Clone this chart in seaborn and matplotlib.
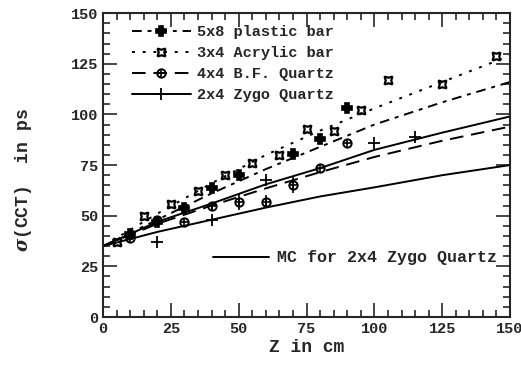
import matplotlib
matplotlib.use("Agg")
import matplotlib.pyplot as plt
import seaborn as sns
import pandas as pd

# Measured time resolution vs. position along the bar
plastic_z = [10, 20, 30, 40, 50, 70, 80, 90]
plastic_sigma = [41, 47, 54, 63.5, 70, 80.5, 88, 103]

acrylic_z = [5, 15, 25, 35, 45, 55, 65, 75, 85, 95, 105, 125, 145]
acrylic_sigma = [37, 50, 56, 62, 70, 76, 80, 93, 92, 102, 117, 115, 129]

bf_z = [10, 20, 30, 40, 50, 60, 70, 80, 90]
bf_sigma = [39, 48, 47, 55, 57, 57, 65, 73.5, 86]
bf_err = [0, 0, 0, 2, 4, 3, 4, 0, 0]

zygo_z = [20, 40, 60, 100, 115]
zygo_sigma = [37, 48, 67.5, 86, 89]

# Fitted curves sampled along Z
fit_z = [0, 20, 40, 60, 80, 100, 125, 150]
plastic_fit = [35, 48, 61, 73, 84, 95, 106, 116]
acrylic_fit = [35, 51, 66, 80, 92, 103, 116, 129]
bf_fit = [35, 46, 55, 63.5, 71.5, 79, 87, 94]
zygo_fit = [35, 47, 56, 65.5, 73.5, 82.5, 91, 99]
mc_fit = [35, 42, 48, 54, 59.5, 64, 70, 75]

labels = ["5x8 plastic bar", "3x4 Acrylic bar", "4x4 B.F. Quartz", "2x4 Zygo Quartz"]
mc_label = "MC for 2x4 Zygo Quartz"
x_ticks = [0, 25, 50, 75, 100, 125, 150]
y_ticks = [0, 25, 50, 75, 100, 125, 150]

sns.set_style("ticks")
plt.rcParams["font.family"] = ["Liberation Mono", "DejaVu Sans Mono"]
plt.rcParams["font.weight"] = "bold"
plt.rcParams["mathtext.fontset"] = "dejavuserif"

fig = plt.figure(figsize=(5.21, 3.65), dpi=100)
ax = fig.add_axes([0.1977, 0.1315, 0.7813, 0.8325])

black = "black"
LW = 1.4
styles = {
    "plastic": dict(ls=(0, (5, 3, 2, 3)), marker="P", ms=6.5, mfc=black, mew=1.2),
    "acrylic": dict(ls=(0, (1.5, 4)), marker=(4, 1, 45), ms=8, mfc="none", mew=1.6),
    "bf": dict(ls=(0, (7, 4)), marker="o", ms=6, mfc="none", mew=1.4),
    "zygo": dict(ls="-", marker="+", ms=9, mfc=black, mew=1.3),
}

fits = {"plastic": plastic_fit, "acrylic": acrylic_fit, "bf": bf_fit, "zygo": zygo_fit}
points = {
    "plastic": (plastic_z, plastic_sigma),
    "acrylic": (acrylic_z, acrylic_sigma),
    "bf": (bf_z, bf_sigma),
    "zygo": (zygo_z, zygo_sigma),
}

handles = []
for key in ["plastic", "acrylic", "bf", "zygo"]:
    st = styles[key]
    df_fit = pd.DataFrame({"z": fit_z, "s": fits[key]})
    sns.lineplot(data=df_fit, x="z", y="s", ax=ax, color=black, lw=LW,
                 linestyle=st["ls"], legend=False)
    zz, ss = points[key]
    ax.plot(zz, ss, ls="none", marker=st["marker"], ms=st["ms"], color=black,
            mfc=st["mfc"], mec=black, mew=st["mew"])
    h, = ax.plot([], [], color=black, lw=LW, linestyle=st["ls"],
                 marker=st["marker"], ms=st["ms"], mfc=st["mfc"], mec=black,
                 mew=st["mew"])
    if key == "bf":
        # circled-plus symbol: open circle with a cross inside
        ax.plot(bf_z, bf_sigma, ls="none", marker="+", ms=6, color=black, mew=1.2)
        hp, = ax.plot([], [], ls="none", marker="+", ms=6, color=black, mew=1.2)
        h = (h, hp)
    handles.append(h)

ax.errorbar(bf_z, bf_sigma, yerr=bf_err, fmt="none", ecolor=black, elinewidth=1.2)

df_mc = pd.DataFrame({"z": fit_z, "s": mc_fit})
sns.lineplot(data=df_mc, x="z", y="s", ax=ax, color=black, lw=LW, legend=False)

# MC key drawn inside the plot
ax.plot([40.5, 61], [29.6, 29.6], color=black, lw=LW)
ax.text(64, 29.6, mc_label, va="center", ha="left", fontsize=12, fontweight="bold")

leg = ax.legend(handles, labels, loc="upper left", frameon=False, fontsize=11,
                handlelength=3.9, handletextpad=0.4, labelspacing=0.45,
                borderaxespad=0.0, bbox_to_anchor=(0.055, 0.98))

ax.set_xlim(0, 150)
ax.set_ylim(0, 150)
ax.set_xticks(x_ticks)
ax.set_yticks(y_ticks)
ax.set_xticks(range(0, 151, 5), minor=True)
ax.set_yticks(range(0, 151, 5), minor=True)
ax.tick_params(which="both", direction="in", top=True, right=True, width=1.2)
ax.tick_params(which="major", length=10, labelsize=11)
ax.tick_params(which="minor", length=5)
for sp in ax.spines.values():
    sp.set_linewidth(1.5)
    sp.set_visible(True)

ax.set_xlabel("Z in cm", fontsize=13, fontweight="bold", labelpad=2)
ax.set_ylabel(r"$\sigma$(CCT)  in ps", fontsize=13, fontweight="bold")
ax.yaxis.set_label_coords(-0.17, 0.45)

fig.savefig("out.png", dpi=100)
